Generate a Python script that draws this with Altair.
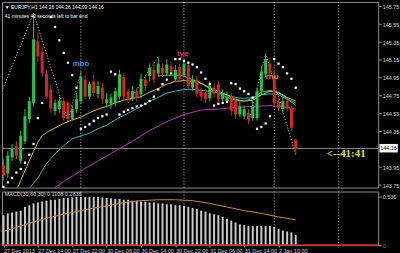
import altair as alt
import pandas as pd

# ---------------- data ----------------
bars = list(range(69))
opens = [143.97, 143.88, 144.06, 144.19, 144.02, 144.24, 144.49, 144.67, 145.36, 145.24,
         145.00, 144.82, 144.58, 144.60, 144.69, 144.67, 144.49, 144.60, 144.69, 144.93,
         144.74, 144.91, 144.77, 144.84, 144.67, 144.66, 144.67, 144.74, 144.96, 144.80,
         144.72, 144.80, 144.77, 144.93, 144.97, 145.04, 145.00, 145.06, 145.00, 145.08,
         144.93, 145.07, 144.98, 145.09, 144.84, 144.93, 144.80, 144.78, 144.72, 144.84,
         144.88, 144.71, 144.69, 144.74, 144.69, 144.54, 144.52, 144.56, 144.50, 144.50,
         144.80, 144.99, 145.11, 144.97, 144.69, 144.60, 144.69, 144.61, 144.26]
highs = [144.04, 144.13, 144.21, 144.24, 144.36, 144.60, 144.74, 145.67, 145.47, 145.30,
         145.04, 144.87, 144.71, 144.74, 144.73, 144.69, 144.64, 144.78, 145.02, 144.98,
         144.91, 144.99, 144.91, 144.89, 144.78, 144.77, 144.84, 145.04, 145.00, 144.83,
         144.86, 144.84, 145.00, 144.98, 145.11, 145.13, 145.19, 145.11, 145.16, 145.13,
         145.09, 145.11, 145.13, 145.10, 144.98, 144.97, 144.84, 144.82, 144.91, 144.89,
         144.91, 144.82, 144.80, 144.78, 144.72, 144.69, 144.64, 144.60, 144.69, 144.84,
         145.08, 145.22, 145.18, 145.02, 144.73, 144.73, 144.72, 144.64, 144.26]
lows = [143.80, 143.83, 144.02, 144.04, 143.99, 144.21, 144.44, 144.63, 145.13, 144.96,
        144.71, 144.56, 144.53, 144.56, 144.47, 144.47, 144.47, 144.56, 144.66, 144.71,
        144.71, 144.74, 144.72, 144.66, 144.62, 144.60, 144.63, 144.71, 144.69, 144.67,
        144.69, 144.69, 144.72, 144.80, 144.91, 144.89, 144.96, 144.96, 144.97, 145.01,
        144.91, 144.91, 144.96, 144.82, 144.80, 144.73, 144.69, 144.67, 144.69, 144.73,
        144.67, 144.67, 144.68, 144.53, 144.49, 144.51, 144.49, 144.44, 144.47, 144.47,
        144.77, 144.96, 144.97, 144.63, 144.58, 144.56, 144.58, 144.36, 144.09]
closes = [143.86, 144.08, 144.16, 144.08, 144.30, 144.52, 144.69, 145.38, 145.19, 145.00,
          144.74, 144.61, 144.67, 144.69, 144.50, 144.49, 144.60, 144.71, 144.96, 144.74,
          144.88, 144.78, 144.86, 144.71, 144.71, 144.73, 144.80, 144.99, 144.74, 144.72,
          144.80, 144.73, 144.94, 144.86, 145.06, 144.93, 145.11, 145.00, 145.10, 145.02,
          145.04, 144.94, 145.11, 144.86, 144.93, 144.77, 144.74, 144.71, 144.86, 144.78,
          144.71, 144.78, 144.74, 144.58, 144.54, 144.63, 144.60, 144.49, 144.63, 144.80,
          145.02, 145.16, 145.00, 144.67, 144.61, 144.69, 144.61, 144.39, 144.16]

sar_bars = list(range(0, 10)) + list(range(11, 69))
sar_vals = [143.73, 143.78, 143.83, 143.89, 143.93, 144.00, 144.09, 144.21, 144.50, 144.67,
            145.63, 145.52, 145.37, 145.23, 145.12, 144.98, 144.84,
            144.38, 144.40, 144.43, 144.47, 144.50, 144.52, 144.54,
            145.02, 144.99,
            144.54, 144.57, 144.59, 144.61, 144.63, 144.64, 144.66, 144.69, 144.74, 144.82,
            144.88, 144.93, 145.00,
            145.16, 145.16, 145.14, 145.12, 145.10, 145.07, 145.01, 144.94, 144.88,
            144.64, 144.66, 144.67, 144.68,
            144.89, 144.88, 144.83, 144.80, 144.77, 144.73,
            144.38, 144.40, 144.44, 144.52,
            145.16, 145.11, 145.07, 145.00, 144.94, 144.84]

yellow_bars = [3, 4, 5, 6, 7, 8, 9, 10, 12, 14, 16, 18, 20, 22, 24, 26, 28, 30, 32, 34, 36,
               38, 40, 42, 44, 46, 48, 50, 52, 54, 56, 58, 60, 62, 64, 66, 68]
yellow_vals = [143.69, 143.80, 143.91, 144.02, 144.13, 144.23, 144.30, 144.34, 144.39, 144.44,
               144.48, 144.51, 144.56, 144.60, 144.63, 144.67, 144.70, 144.72, 144.74, 144.79,
               144.83, 144.88, 144.91, 144.92, 144.91, 144.89, 144.84, 144.80, 144.76, 144.71,
               144.69, 144.70, 144.76, 144.80, 144.79, 144.73, 144.69]
cyan_bars = [5, 6, 8, 10, 12, 14, 16, 18, 20, 22, 24, 26, 28, 30, 32, 34, 36, 38, 40, 42, 44,
             46, 48, 50, 52, 54, 56, 58, 60, 62, 64, 66, 68]
cyan_vals = [143.67, 143.71, 143.83, 143.99, 144.10, 144.19, 144.27, 144.30, 144.33, 144.38,
             144.42, 144.48, 144.53, 144.58, 144.63, 144.69, 144.73, 144.78, 144.80, 144.82,
             144.82, 144.81, 144.80, 144.78, 144.76, 144.73, 144.72, 144.73, 144.76, 144.77,
             144.76, 144.71, 144.67]
magenta_bars = [11, 14, 18, 22, 26, 30, 34, 38, 42, 46, 50, 54, 58, 62, 66, 68]
magenta_vals = [143.69, 143.79, 143.91, 144.02, 144.13, 144.24, 144.36, 144.46, 144.54, 144.59,
                144.60, 144.62, 144.63, 144.64, 144.62, 144.60]
green_bars = [36, 38, 40, 42, 44, 46, 48, 50, 52, 54, 56, 58, 60, 62, 64, 66, 68]
green_vals = [144.97, 144.98, 144.98, 144.97, 144.93, 144.89, 144.83, 144.78, 144.73, 144.70,
              144.69, 144.72, 144.79, 144.81, 144.78, 144.72, 144.64]

white_zz_ids = ["a", "a", "a", "b", "b", "b"]
white_zz_bars = [-3, 7, 15, 57, 61, 68]
white_zz_vals = [144.49, 145.67, 144.47, 144.44, 145.22, 144.09]
pink_zz_bars = [15, 18]
pink_zz_vals = [144.47, 145.02]
orange_zz_bars = [29, 36]
orange_zz_vals = [144.67, 145.19]

macd_hist = [0.33, 0.35, 0.36, 0.37, 0.38, 0.42, 0.44, 0.46, 0.47, 0.48,
             0.49, 0.50, 0.50, 0.51, 0.52, 0.52, 0.525, 0.53, 0.53, 0.53,
             0.53, 0.53, 0.53, 0.525, 0.52, 0.515, 0.51, 0.51, 0.50, 0.50,
             0.49, 0.49, 0.48, 0.48, 0.47, 0.47, 0.46, 0.46, 0.45, 0.45,
             0.44, 0.44, 0.43, 0.42, 0.41, 0.40, 0.38, 0.37, 0.35, 0.34,
             0.33, 0.31, 0.29, 0.27, 0.25, 0.23, 0.22, 0.21, 0.21, 0.21,
             0.21, 0.21, 0.21, 0.20, 0.18, 0.16, 0.15, 0.14, 0.11]
signal_bars = [0, 4, 8, 12, 16, 20, 24, 28, 32, 36, 40, 44, 48, 52, 56, 60, 64, 68]
signal_vals = [0.15, 0.21, 0.27, 0.32, 0.36, 0.40, 0.43, 0.47, 0.49, 0.50, 0.50, 0.49,
               0.46, 0.42, 0.38, 0.35, 0.31, 0.28]

separator_bars = [18, 42, 63, 78]
time_tick_bars = [0, 8, 16, 24, 32, 40, 48, 56, 64]
time_labels = ["27 Dec 2013", "27 Dec 14:00", "27 Dec 22:00", "30 Dec 06:00", "30 Dec 14:00",
               "30 Dec 22:00", "31 Dec 06:00", "31 Dec 14:00", "2 Jan 10:00"]
price_ticks = [145.75, 145.55, 145.35, 145.15, 144.95, 144.75, 144.55, 144.35, 143.95, 143.75]
macd_ticks = [0, 0.536]
current_price = 144.16

mbo = ("mbo", 18.0, 145.11, "#3d8fe0")
tye = ("tye", 41.7, 145.22, "#e0307e")
rnu = ("rnu", 62.5, 144.96, "#e08060")

info_lines = ["\u25bc EURJPY,H1  144.26 144.26 144.09 144.16",
              "41 minutes 40 seconds left to bar end"]
info_bars = [0.3, 0.3]
info_vals = [145.744, 145.644]

timer_text = "<--41:41"
timer_bar = 75.2
timer_val = 144.10

macd_label = "MACD(30,60,30) 0.1108 0.2838"

# ---------------- tables ----------------
candles = pd.DataFrame({"bar": bars, "open": opens, "high": highs, "low": lows, "close": closes})
up = candles[candles["close"] >= candles["open"]]
down = candles[candles["close"] < candles["open"]]
sar = pd.DataFrame({"bar": sar_bars, "v": sar_vals})
yel = pd.DataFrame({"bar": yellow_bars, "v": yellow_vals})
cya = pd.DataFrame({"bar": cyan_bars, "v": cyan_vals})
mag = pd.DataFrame({"bar": magenta_bars, "v": magenta_vals})
grn = pd.DataFrame({"bar": green_bars, "v": green_vals})
wzz = pd.DataFrame({"id": white_zz_ids, "bar": white_zz_bars, "v": white_zz_vals})
pzz = pd.DataFrame({"bar": pink_zz_bars, "v": pink_zz_vals})
ozz = pd.DataFrame({"bar": orange_zz_bars, "v": orange_zz_vals})
seps = pd.DataFrame({"bar": separator_bars})
hist = pd.DataFrame({"bar": bars, "h": macd_hist})
sig = pd.DataFrame({"bar": signal_bars, "v": signal_vals})
info = pd.DataFrame({"t": info_lines, "bar": info_bars, "v": info_vals})
timer = pd.DataFrame({"t": [timer_text], "bar": [timer_bar], "v": [timer_val]})
cur = pd.DataFrame({"v": [current_price], "t": [f"{current_price:.2f}"],
                    "b0": [87.5], "b1": [91.75], "bt": [87.65],
                    "v0": [current_price + 0.05], "v1": [current_price - 0.045]})
zero = pd.DataFrame({"h": [0.0]})

FONT = "Liberation Sans"
LABEL = "#d8d8d8"
xs = alt.Scale(domain=[-0.35, 87.18], nice=False, zero=False)
ys = alt.Scale(domain=[143.722, 145.80], nice=False, zero=False)
ms = alt.Scale(domain=[0, 0.5907], nice=False, zero=False)

price_axis = alt.Axis(orient="right", values=price_ticks, format=".2f", grid=False, domain=False,
                      tickColor="#9a9a9a", tickSize=3, labelColor=LABEL, labelFontSize=5.5,
                      labelFont=FONT, labelPadding=1, labelOverlap=False, title=None)
label_expr = "[" + ",".join(f"'{t}'" for t in time_labels) + "][floor(datum.value / 8)]"
time_axis = alt.Axis(values=time_tick_bars, labelExpr=label_expr, grid=False, domain=False,
                     tickColor="#9a9a9a", tickSize=2, labelColor=LABEL, labelFontSize=5.5,
                     labelFont=FONT, labelAlign="left", labelPadding=1, labelOverlap=False,
                     labelFlush=False, title=None)
macd_axis = alt.Axis(orient="right", values=macd_ticks,
                     labelExpr="datum.value == 0 ? '0' : format(datum.value, '.3f')",
                     grid=False, domain=False, tickColor="#9a9a9a", tickSize=3,
                     labelColor=alt.condition("datum.value == 0", alt.value("#e05050"), alt.value(LABEL)),
                     labelFontSize=5.5, labelFont=FONT, labelPadding=1, title=None)


def X(f="bar"):
    return alt.X(f"{f}:Q", scale=xs, axis=None)


def Y(f="v"):
    return alt.Y(f"{f}:Q", scale=ys, axis=price_axis)


def BX(f="bar"):
    return alt.X(f"{f}:Q", scale=xs, axis=time_axis)


def BY(f="h"):
    return alt.Y(f"{f}:Q", scale=ms, axis=macd_axis)


sep_top = alt.Chart(seps).mark_rule(color="#bfbfbf", strokeDash=[1, 2], strokeWidth=1).encode(x=X())
bid = alt.Chart(cur).mark_rule(color="#8a8a8a", strokeWidth=1).encode(y=Y())
wz = alt.Chart(wzz).mark_line(strokeDash=[1, 2], strokeWidth=1, clip=True, color="#d8d8d8").encode(
    x=X(), y=Y(), detail="id:N")
pz = alt.Chart(pzz).mark_line(strokeDash=[1, 2], strokeWidth=1, clip=True, color="#e070c0").encode(
    x=X(), y=Y())
oz = alt.Chart(ozz).mark_line(strokeDash=[1, 2], strokeWidth=1, clip=True, color="#e0b040").encode(
    x=X(), y=Y())


def ma_line(df, col):
    return alt.Chart(df).mark_line(strokeWidth=1, clip=True, color=col).encode(x=X(), y=Y())


mas = [ma_line(mag, "#c030c0"), ma_line(cya, "#30b8c8"), ma_line(grn, "#50d050"), ma_line(yel, "#d8c040")]
GREEN = "#2cc050"
RED = "#d02828"
wick_up = alt.Chart(up).mark_rule(strokeWidth=1, color=GREEN).encode(x=X(), y=Y("low"), y2="high:Q")
wick_dn = alt.Chart(down).mark_rule(strokeWidth=1, color=RED).encode(x=X(), y=Y("low"), y2="high:Q")
body_up = alt.Chart(up).mark_rule(strokeWidth=3, color=GREEN).encode(x=X(), y=Y("open"), y2="close:Q")
body_dn = alt.Chart(down).mark_rule(strokeWidth=3, color=RED).encode(x=X(), y=Y("open"), y2="close:Q")
sar_pts = alt.Chart(sar).mark_square(size=5, color="white", opacity=1, filled=True).encode(x=X(), y=Y())


def marker(m):
    df = pd.DataFrame({"t": [m[0]], "bar": [m[1]], "v": [m[2]]})
    return alt.Chart(df).mark_text(fontSize=8, font=FONT, fontWeight="bold", color=m[3]).encode(
        x=X(), y=Y(), text="t:N")


inf = alt.Chart(info).mark_text(fontSize=5, font=FONT, color="white", align="left", baseline="middle").encode(
    x=X(), y=Y(), text="t:N")
tmr = alt.Chart(timer).mark_text(fontSize=11, font="Liberation Serif", fontWeight="bold", color="#e0e020",
                                 align="left", baseline="middle").encode(x=X(), y=Y(), text="t:N")
box = alt.Chart(cur).mark_rect(color="white", clip=False).encode(
    x=X("b0"), x2="b1:Q", y=Y("v0"), y2="v1:Q")
boxt = alt.Chart(cur).mark_text(fontSize=5.5, font=FONT, color="black", align="left", baseline="middle",
                                clip=False).encode(x=X("bt"), y=Y(), text="t:N")

top = alt.layer(bid, sep_top, wz, pz, oz, *mas, wick_up, wick_dn, body_up, body_dn, sar_pts,
                marker(mbo), marker(tye), marker(rnu), inf, tmr, box, boxt).properties(width=379, height=187)

# ---------------- MACD pane ----------------
sep_bot = alt.Chart(seps).mark_rule(color="#bfbfbf", strokeDash=[1, 2], strokeWidth=1).encode(x=BX())
hbars = alt.Chart(hist).mark_rule(strokeWidth=2, color="#c8c8c8").encode(x=BX(), y=BY(), y2=alt.datum(0))
zl = alt.Chart(zero).mark_rule(color="#d03030", strokeWidth=1.5).encode(y=BY())
sigl = alt.Chart(sig).mark_line(color="#d08838", strokeWidth=1).encode(x=BX(), y=BY("v"))
mlab = alt.Chart(pd.DataFrame({"t": [macd_label], "bar": [0.3], "v": [0.565]})).mark_text(
    fontSize=5.5, font=FONT, color=LABEL, align="left", baseline="middle").encode(
    x=BX(), y=BY("v"), text="t:N")

bottom = alt.layer(sep_bot, hbars, zl, sigl, mlab).properties(width=379, height=54)

chart = alt.vconcat(top, bottom, spacing=1).properties(padding=0, background="black").configure_view(
    stroke="#8a8a8a", strokeWidth=1)

chart.save("out.html", embed_options={"renderer": "svg", "actions": False})
